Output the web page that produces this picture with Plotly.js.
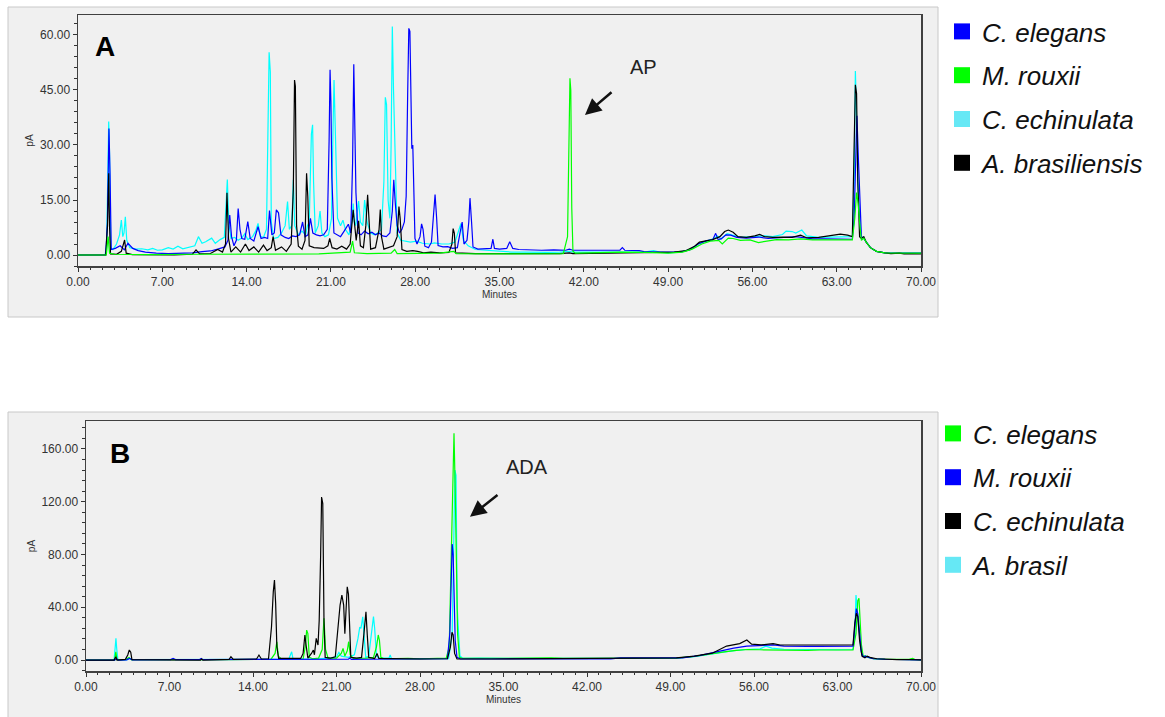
<!DOCTYPE html>
<html><head><meta charset="utf-8">
<script src="https://cdn.plot.ly/plotly-3.0.1.min.js"></script>
<style>html,body{margin:0;padding:0;background:#fff}#chart{width:1165px;height:717px}</style>
</head><body><div id="chart"></div>
<script>
// ---------- Panel A : [minutes, pA] ----------
const namesA = ['C. elegans', 'M. rouxii', 'C. echinulata', 'A. brasiliensis'];
const elegansA = [[0,0],[2.3,0],[2.44,8.6],[2.57,34.5],[2.66,22],[2.76,1.5],[3.1,1.8],[3.5,2.5],[3.85,1.4],[4.15,3.2],[4.55,1.8],[5.0,1.2],[5.6,0.8],[6.5,0.5],[7.5,0.4],[8.5,0.5],[9.5,0.6],[10.3,0.9],[11.0,1.1],[11.6,1.6],[12.2,2.2],[12.45,4.0],[12.6,10.9],[12.75,5],[12.95,2.5],[13.15,4],[13.3,12.7],[13.45,7],[13.6,4.5],[13.85,4.3],[14.1,9.1],[14.3,4.5],[14.6,3.8],[14.95,7.7],[15.2,4.5],[15.5,4.8],[15.75,4.5],[15.9,12.1],[16.1,5.5],[16.3,6],[16.47,12.3],[16.65,11.5],[16.85,5.5],[17.2,4.8],[17.5,4.5],[17.8,5.2],[18.1,5],[18.4,5.5],[18.65,9.0],[18.85,5],[19.1,5.5],[19.3,10],[19.5,6],[19.8,5.5],[20.1,5.2],[20.4,5.5],[20.7,7],[20.85,31],[20.93,50.5],[21.0,42],[21.08,21],[21.25,6],[21.5,5.5],[21.8,5],[22.1,6.5],[22.45,8.4],[22.65,6],[22.8,25],[22.9,52],[22.98,40],[23.08,17],[23.25,6],[23.5,5.5],[23.8,6.5],[24.1,5.8],[24.4,6.2],[24.7,5.5],[25.0,6],[25.3,5.2],[25.6,5],[25.9,6],[26.1,12],[26.22,20.5],[26.35,14],[26.5,8],[26.7,6],[26.9,7],[27.1,9],[27.25,16],[27.38,45],[27.47,61.8],[27.56,61],[27.64,40.8],[27.72,29],[27.8,30],[27.88,16],[27.98,4.5],[28.15,3],[28.4,5],[28.53,8.5],[28.65,7],[28.8,2.4],[29.1,2],[29.35,3.5],[29.5,9],[29.65,16.5],[29.78,10],[29.9,2.6],[30.3,2.2],[30.7,2.3],[31.1,1.8],[31.5,2],[31.75,6.5],[31.9,9.0],[32.05,3],[32.3,4],[32.45,9],[32.55,15.5],[32.68,9],[32.8,2.2],[33.2,1.6],[33.8,1.7],[34.3,1.8],[34.45,4.3],[34.58,1.8],[35.0,1.6],[35.6,1.8],[35.85,3.6],[36.1,1.8],[36.6,1.5],[37.5,1.4],[38.5,1.3],[39.5,1.4],[40.5,1.3],[40.8,1.6],[41.1,1.3],[42,1.3],[43.5,1.2],[45.0,1.3],[45.2,2.0],[45.4,1.3],[46.6,1.2],[47,0.9],[48,0.8],[49,0.7],[50,0.8],[50.8,1.4],[51.5,3.0],[52.2,3.9],[52.7,4.1],[52.95,5.9],[53.15,4.2],[53.4,4.4],[53.8,5.5],[54.2,5.4],[54.7,4.8],[55.5,4.6],[56.5,4.9],[57.3,4.5],[58.0,4.6],[59.0,4.8],[59.6,5.0],[60.1,4.8],[61.0,4.4],[62.0,4.4],[63.0,4.3],[64.3,4.3],[64.45,10],[64.58,30],[64.68,38],[64.78,28],[64.9,17],[65.05,5],[65.25,4.6],[65.45,3.5],[65.8,2.0],[66.3,1.0],[67,0.6],[68,0.5],[69,0.5],[70,0.5]];
const rouxiiA = [[0,0],[2.35,0],[2.5,5.0],[2.62,0.5],[3,0.2],[6,0.1],[10,0.2],[14,0.3],[18,0.4],[20,0.3],[22.6,0.8],[22.8,3.8],[22.95,0.6],[24,0.4],[26,0.5],[26.3,1.5],[26.5,0.4],[28,0.4],[30,0.5],[31.2,1.0],[31.4,0.4],[34,0.3],[38,0.3],[40.3,0.4],[40.65,5],[40.75,32.9],[40.85,48.2],[40.92,45],[41.0,12.9],[41.1,1.0],[41.3,0.5],[42.5,0.6],[45,0.8],[47,0.7],[49,0.5],[50.2,0.8],[51.0,1.6],[51.8,3.0],[52.5,3.8],[53.2,4.0],[53.5,3.0],[54.0,4.6],[54.4,4.5],[55.0,4.0],[55.8,4.1],[56.5,3.4],[57.3,3.8],[58.0,4.2],[59.0,4.1],[60.0,4.4],[61.0,4.1],[62.0,4.0],[63.0,4.1],[64.3,4.1],[64.5,10],[64.65,17],[64.78,14],[64.9,9],[65.05,4],[65.25,4.6],[65.45,3.5],[65.8,2.0],[66.3,1.0],[67,0.6],[68,0.5],[69,0.5],[70,0.5]];
const echinulataA = [[0,0],[2.25,0],[2.38,3],[2.5,30],[2.55,36.4],[2.62,28],[2.72,2],[2.9,1.5],[3.2,3],[3.45,5.5],[3.6,9.5],[3.72,5],[3.82,6],[3.93,10.4],[4.05,4],[4.3,2],[4.8,1.6],[5.3,1.7],[5.8,1.4],[6.2,1.8],[6.6,1.3],[7.0,1.4],[7.5,2.0],[7.9,1.6],[8.3,2.4],[8.7,1.7],[9.2,2.0],[9.7,2.5],[10.0,5.0],[10.3,3.2],[10.6,3.6],[11.1,4.6],[11.4,3.2],[11.8,4.2],[12.15,4.8],[12.3,15],[12.4,20.6],[12.52,9],[12.7,4.5],[13.0,4.8],[13.3,4.0],[13.6,4.6],[13.85,5.8],[14.1,4.2],[14.5,5],[14.75,6.5],[14.95,8.6],[15.15,5],[15.4,4.8],[15.65,7],[15.75,28.3],[15.87,55.3],[15.97,50],[16.05,9],[16.25,4.5],[16.6,4.8],[16.9,6],[17.2,8],[17.4,14.6],[17.55,7],[17.75,8],[17.88,20.5],[18.0,8],[18.3,5.5],[18.6,6.5],[18.9,5.5],[19.05,8],[19.2,9],[19.38,33],[19.48,35.5],[19.56,20],[19.7,6],[19.95,8],[20.1,12],[20.25,6],[20.5,5],[20.8,5.5],[21.05,10],[21.18,35],[21.26,47.7],[21.35,36],[21.45,24],[21.55,10],[21.8,8],[22.0,9.5],[22.2,7],[22.5,5.5],[22.75,9],[22.85,14],[22.95,9],[23.05,8],[23.3,14.7],[23.45,9],[23.65,8],[23.8,15],[24.0,9],[24.3,6],[24.6,5.5],[24.9,6],[25.2,7],[25.4,20],[25.52,43],[25.62,41],[25.75,15],[25.9,10],[26.0,30],[26.1,62.3],[26.2,45],[26.35,22],[26.5,6],[26.8,4],[27.2,3.8],[27.6,3.5],[28.1,3.8],[28.6,3.2],[29.2,3.0],[29.6,3.3],[30.2,3.0],[30.8,3.0],[31.3,3.5],[31.55,6],[31.8,8.6],[32.0,4],[32.4,2.5],[33,1.5],[34,1.2],[35,1.0],[36,0.8],[37,0.8],[38,0.7],[39,0.7],[40,0.8],[40.8,1.0],[41.1,0.8],[42,0.8],[43,0.8],[44,0.7],[45,0.8],[46,0.8],[47,0.8],[47.8,1.2],[48.3,0.8],[49,0.6],[50,0.8],[50.8,1.5],[51.5,3.0],[52.2,3.8],[52.8,4.5],[53.1,5.2],[53.4,4.4],[53.9,5.8],[54.3,5.5],[55.0,4.8],[56.0,5.0],[57.0,5.2],[57.7,5.0],[58.5,5.6],[58.8,6.5],[59.3,6.4],[59.6,6.0],[60.1,6.8],[60.5,5.2],[61.5,4.8],[62.5,4.9],[63.5,4.9],[64.3,5.0],[64.45,20],[64.55,50.2],[64.65,38],[64.75,20],[64.9,10],[65.05,5],[65.25,4.5],[65.45,3.5],[65.8,2.0],[66.3,1.0],[67,0.6],[68,0.5],[69,0.5],[70,0.5]];
const brasiliensisA = [[0,0],[2.3,0],[2.45,8],[2.55,22.3],[2.62,7.7],[2.7,0.3],[3.2,0.2],[3.6,1.0],[3.87,4.1],[4.0,0.5],[4.5,0.1],[6,0],[8,0],[9.5,0.2],[9.8,1.4],[10.1,0.3],[11,0.4],[11.6,1.5],[12.0,0.8],[12.25,3],[12.37,17],[12.5,4.5],[12.7,0.8],[13.1,2.2],[13.5,0.8],[13.9,3.0],[14.2,1.2],[14.6,2.2],[15.0,0.8],[15.4,2.7],[15.7,1.2],[16.05,2],[16.2,5.0],[16.4,1.3],[16.9,2.2],[17.3,1.0],[17.7,3],[17.88,18],[17.98,47.7],[18.05,46],[18.15,8],[18.3,2.4],[18.6,1.6],[18.85,4],[18.98,22.3],[19.08,16],[19.2,2.5],[19.6,2],[20.0,1.8],[20.4,1.8],[20.75,2.5],[20.9,4.5],[21.1,2],[21.5,1.6],[21.9,2.4],[22.3,1.6],[22.6,3],[22.75,8],[22.85,12.3],[22.95,9],[23.1,4],[23.3,9.3],[23.45,2.5],[23.7,2],[23.9,8],[24.05,16.4],[24.15,10],[24.3,1.6],[24.7,2],[25.0,7],[25.1,12.4],[25.2,5],[25.4,1.6],[25.8,2],[26.2,2.5],[26.5,5],[26.65,13.2],[26.75,10],[26.9,1.5],[27.3,1.0],[27.8,1.2],[28.2,1.0],[28.7,0.6],[29.3,0.8],[30,0.6],[30.8,0.7],[31.05,3],[31.15,7.2],[31.25,6],[31.35,0.6],[32,0.5],[33,0.4],[34,0.4],[36,0.4],[38,0.3],[40,0.4],[40.8,0.6],[41.1,0.4],[44,0.5],[46,0.6],[48,0.7],[49.5,0.8],[50.5,1.2],[51.2,2.4],[51.6,3.5],[52.1,3.8],[52.7,4.2],[53.3,5.0],[53.7,6.4],[54.0,6.8],[54.4,6.2],[54.8,5.0],[55.5,4.8],[56.2,5.2],[56.6,5.6],[57.0,5.0],[57.7,4.8],[58.5,4.9],[59.3,4.8],[60.0,5.4],[60.5,4.7],[61.5,4.8],[62.5,5.2],[63.3,5.7],[63.9,5.4],[64.3,5.0],[64.45,30],[64.55,46.4],[64.65,44],[64.75,20],[64.9,5],[65.05,4.5],[65.25,5.0],[65.45,3.5],[65.8,2.0],[66.3,1.0],[67,0.6],[67.5,0.4],[68.2,0.5],[68.6,0.3],[69.2,0.4],[70,0.3]];

// ---------- Panel B : [minutes, pA] ----------
const namesB = ['C. elegans', 'M. rouxii', 'C. echinulata', 'A. brasil'];
const elegansB = [[0,0],[2.4,0],[2.5,6.3],[2.6,0.3],[3.3,0.3],[3.6,2],[3.8,0.3],[7,0.2],[12,0.3],[15.5,0.5],[15.85,5],[16.0,13.9],[16.12,3],[16.4,0.6],[18.2,0.8],[18.38,10],[18.5,22.7],[18.6,20],[18.72,2],[19.0,1],[19.5,1.5],[19.8,8],[19.95,31.6],[20.08,8],[20.3,1.2],[21.0,1.5],[21.4,5],[21.55,8.8],[21.7,3],[21.9,7],[22.02,13.9],[22.15,4],[22.4,1.2],[23.5,1.5],[24.1,2],[24.35,10],[24.5,19],[24.6,15],[24.72,2],[25,1],[26,1.2],[27,1.3],[28,1.0],[29,1.2],[30.2,1.5],[30.45,10],[30.62,80],[30.75,155],[30.85,172],[30.95,130],[31.05,60],[31.15,20],[31.3,2],[31.6,1.2],[33,1.2],[35,1.5],[37,1.8],[39,1.6],[40,1.3],[42,1.3],[44,1.2],[46,1.3],[48,1.2],[49.5,1.5],[51,2.8],[52.5,4.5],[53.5,6.2],[54.5,7.4],[55.5,8.0],[56.5,7.8],[57.5,7.6],[58.5,7.5],[59.5,7.6],[60.5,7.4],[61.5,7.6],[62.5,7.5],[63.5,7.6],[64.3,7.7],[64.55,20],[64.7,45],[64.8,46.8],[64.9,30],[65.0,12],[65.15,3],[65.35,3.0],[65.6,2],[66,1],[67,0.6],[68,0.4],[69,0.5],[69.3,1.2],[69.5,0.4],[70,0.2]];
const rouxiiB = [[0,0],[2.4,0],[2.55,1.0],[2.7,0],[3.4,0.2],[3.65,1.3],[3.9,0.2],[7.1,0.3],[7.3,1.3],[7.5,0.3],[9.5,0.3],[9.65,1.2],[9.8,0.3],[12,0.3],[13.5,0.8],[15.0,0.8],[16,0.6],[17,0.7],[18,0.5],[19,0.6],[20,0.5],[22,0.7],[22.1,1.5],[22.25,0.5],[24,0.6],[26,0.7],[28,0.6],[30.3,1.0],[30.5,20],[30.6,58],[30.7,88],[30.78,80],[30.85,40],[30.95,15],[31.1,2],[31.4,0.8],[34,0.8],[36,0.9],[38,1.0],[40,1.2],[41.5,1.2],[42,0.8],[44,0.9],[44.8,1.6],[46,1.5],[47.3,1.5],[48,1.2],[50,1.6],[51.5,3.5],[53,6.5],[54.3,9.0],[55.4,10.5],[56.5,10.8],[57.6,11.5],[58.5,10.5],[59.5,10.2],[60.5,10.4],[61.5,10.3],[62.5,10.4],[63.5,10.4],[64.3,10.5],[64.45,25],[64.58,39],[64.7,35],[64.85,20],[65.0,6],[65.15,2.5],[65.35,3.0],[65.6,2],[66,1],[67,0.6],[68,0.4],[69,0.4],[70,0.2]];
const echinulataB = [[0,0],[2.35,0],[2.5,2.5],[2.6,0],[3.3,0.5],[3.5,3.8],[3.63,7.6],[3.75,6],[3.85,0.3],[6,0],[9.6,0],[9.7,0.8],[9.8,0],[12.0,0.5],[12.15,2.5],[12.35,0.5],[14.3,0.8],[14.5,3.8],[14.7,0.8],[15.3,1.0],[15.55,25],[15.7,51.7],[15.8,60.6],[15.9,42.9],[16.0,10],[16.15,1.2],[18.0,1.2],[18.2,5],[18.35,19],[18.45,11.4],[18.6,1.5],[18.9,5],[19.06,7.6],[19.15,4],[19.3,16.4],[19.45,11.4],[19.55,30],[19.67,79.4],[19.75,123.6],[19.85,118.6],[19.95,30],[20.05,2],[20.5,1.5],[20.9,2.5],[21.1,21.5],[21.3,41.7],[21.45,49.3],[21.6,41.7],[21.7,20],[21.8,38],[21.9,55.5],[22.0,50],[22.1,20],[22.2,2],[22.7,1.5],[23.1,2],[23.3,20],[23.47,36.6],[23.58,19],[23.7,2],[24.2,1.2],[24.4,5],[24.55,1.2],[26,1.0],[28,0.8],[30.3,1.0],[30.55,10],[30.68,21],[30.78,19],[30.9,5],[31.1,0.8],[34,0.8],[38,1.0],[40,1.0],[42,1.0],[44,1.1],[46,1.1],[48,1.2],[49.5,1.6],[51,3.0],[52.5,5.2],[53.7,10.6],[54.8,12.5],[55.4,15.2],[55.8,12.0],[56.6,11.5],[57.3,11.8],[57.6,12.4],[58.2,11.4],[60,11.4],[62,11.4],[64.3,11.4],[64.45,28],[64.58,35.4],[64.7,33],[64.85,15],[65.05,3],[65.3,1.8],[65.5,3.0],[65.8,1.8],[66.3,1.0],[67,0.6],[68,0.3],[69,0.3],[70,0.2]];
const brasilB = [[0,0],[2.35,0],[2.45,10],[2.51,16.4],[2.58,8],[2.68,0],[3.5,0.3],[3.65,1.5],[3.8,0.3],[8,0.2],[12,0.3],[14,0.5],[16,0.5],[17.0,0.6],[17.15,5],[17.24,6.3],[17.35,1],[18,0.8],[19,0.8],[20.5,1.5],[21,2.5],[21.2,5.8],[21.4,3],[22,2],[22.5,4],[22.8,16.4],[22.95,25],[23.05,24],[23.2,32.8],[23.3,20],[23.45,2],[23.7,3],[23.95,25],[24.1,32.9],[24.2,24],[24.35,3],[24.6,1.5],[25.4,1.5],[25.5,3.8],[25.6,1.2],[27,1.0],[30.4,1.0],[30.7,20],[30.85,100],[30.93,144],[31.02,140],[31.12,40],[31.2,26],[31.35,3],[31.6,1.2],[33,1.5],[35,1.2],[38,1.2],[40,1.2],[42,1.0],[46,1.2],[48,1.2],[49.5,1.4],[51,2.6],[52.5,4.8],[54,6.8],[55.3,8.0],[56.5,8.5],[57.0,10.5],[57.5,9.0],[58.5,8.2],[60,8.0],[61.5,7.8],[63,7.8],[64.3,8.0],[64.45,20],[64.55,49.3],[64.65,40],[64.8,22],[64.95,8],[65.1,3],[65.35,3.0],[65.6,2],[66,1],[67,0.6],[68,0.4],[69,0.4],[70,0.2]];

// ---------- tick values ----------
const xTicks = [0, 7, 14, 21, 28, 35, 42, 49, 56, 63, 70];
const yTicksA = [0, 15, 30, 45, 60];
const yTicksB = [0, 40, 80, 120, 160];

// ---------- styling ----------
const W = 1165, H = 717;
const BLUE = '#0000ff', GREEN = '#00ff00', CYAN = '#00ffff', BLACK = '#000000', CYAN_KEY = '#66e8f5';
const FONT = 'Liberation Sans, Arial, Helvetica, sans-serif';
const px = v => v / W, py = v => 1 - v / H;

function line(data, color, xa, ya) {
  return {type: 'scatter', mode: 'lines', x: data.map(p => p[0]), y: data.map(p => p[1]),
    xaxis: xa, yaxis: ya, line: {color: color, width: 1.2}, showlegend: false, hoverinfo: 'skip'};
}
function key(name, color, xa, ya, lg) {
  return {type: 'scatter', mode: 'markers', x: [null], y: [null], xaxis: xa, yaxis: ya,
    name: name, legend: lg, legendgroup: lg + name, showlegend: true,
    marker: {symbol: 'square', size: 20, color: color, line: {width: 0}}};
}

const traces = [
  line(echinulataA, CYAN, 'x', 'y'),
  line(elegansA, BLUE, 'x', 'y'),
  line(brasiliensisA, BLACK, 'x', 'y'),
  line(rouxiiA, GREEN, 'x', 'y'),
  line(brasilB, CYAN, 'x2', 'y2'),
  line(elegansB, GREEN, 'x2', 'y2'),
  line(rouxiiB, BLUE, 'x2', 'y2'),
  line(echinulataB, BLACK, 'x2', 'y2'),
  key(namesA[0], BLUE, 'x', 'y', 'legend'),
  key(namesA[1], GREEN, 'x', 'y', 'legend'),
  key(namesA[2], CYAN_KEY, 'x', 'y', 'legend'),
  key(namesA[3], BLACK, 'x', 'y', 'legend'),
  key(namesB[0], GREEN, 'x2', 'y2', 'legend2'),
  key(namesB[1], BLUE, 'x2', 'y2', 'legend2'),
  key(namesB[2], BLACK, 'x2', 'y2', 'legend2'),
  key(namesB[3], CYAN_KEY, 'x2', 'y2', 'legend2')
];

const tickFont = {family: FONT, size: 12, color: '#333'};
function xAxis(domain, anchor) {
  return {domain: domain, anchor: anchor, range: [0, 70], tickvals: xTicks, ticktext: xTicks.map(v => v.toFixed(2)),
    ticks: 'outside', ticklen: 4, tickwidth: 1, tickcolor: '#333', tickfont: tickFont,
    minor: {dtick: 1, tick0: 0, ticks: 'outside', ticklen: 2.5, tickcolor: '#333'},
    showline: true, mirror: true, linecolor: '#404040', linewidth: 1.5, showgrid: false, zeroline: false,
    automargin: false, fixedrange: true,
    title: {text: 'Minutes', font: {family: FONT, size: 10, color: '#333'}, standoff: 2}};
}
function yAxis(domain, anchor, range, ticks, minorStep) {
  return {domain: domain, anchor: anchor, range: range, tickvals: ticks, ticktext: ticks.map(v => v.toFixed(2)),
    ticks: 'outside', ticklen: 4, tickwidth: 1, tickcolor: '#333', tickfont: tickFont,
    minor: {dtick: minorStep, tick0: 0, ticks: 'outside', ticklen: 2.5, tickcolor: '#333'},
    showline: true, mirror: true, linecolor: '#404040', linewidth: 1.5, showgrid: false, zeroline: false,
    automargin: false, fixedrange: true,
    title: {text: 'pA', font: {family: FONT, size: 10, color: '#333'}, standoff: 4}};
}

const legendBase = {xanchor: 'left', yanchor: 'top', bgcolor: 'rgba(0,0,0,0)', borderwidth: 0,
  traceorder: 'grouped', tracegroupgap: 7, itemclick: false, itemdoubleclick: false,
  font: {family: FONT, size: 26, color: '#111', style: 'italic'}};

const label = (x, y, text, size, color) => ({xref: 'paper', yref: 'paper', x: px(x), y: py(y),
  xanchor: 'center', yanchor: 'middle', text: text, showarrow: false,
  font: {family: FONT, size: size, color: color}});

const layout = {
  width: W, height: H, margin: {l: 0, r: 0, t: 0, b: 0},
  paper_bgcolor: '#ffffff', plot_bgcolor: 'rgba(0,0,0,0)',
  showlegend: true, hovermode: false,
  xaxis: xAxis([px(78), px(921)], 'y'),
  yaxis: yAxis([py(266), py(15)], 'x', [-3.0, 65.45], yTicksA, 3),
  xaxis2: xAxis([px(86), px(921)], 'y2'),
  yaxis2: yAxis([py(671), py(421)], 'x2', [-8.3, 181.2], yTicksB, 8),
  legend: Object.assign({x: px(942), y: py(8)}, legendBase),
  legend2: Object.assign({x: px(933), y: py(410)}, legendBase),
  shapes: [
    {type: 'rect', xref: 'paper', yref: 'paper', x0: px(8), x1: px(938), y0: py(317), y1: py(7),
      fillcolor: '#f0f0f0', line: {color: '#c8c8c8', width: 1}, layer: 'below'},
    {type: 'rect', xref: 'paper', yref: 'paper', x0: px(8), x1: px(938), y0: py(720), y1: py(412),
      fillcolor: '#f0f0f0', line: {color: '#c8c8c8', width: 1}, layer: 'below'}
  ],
  annotations: [
    label(105, 46, '<b>A</b>', 28, '#000'),
    label(120, 453, '<b>B</b>', 28, '#000'),
    label(643, 67, 'AP', 20, '#222'),
    label(527, 467, 'ADA', 20, '#222'),
    {xref: 'x', yref: 'y', x: 42.1, y: 38.2, text: '', showarrow: true, ax: 28, ay: -24,
      arrowhead: 2, arrowsize: 1.3, arrowwidth: 2.5, arrowcolor: '#111', standoff: 0},
    {xref: 'x2', yref: 'y2', x: 32.19, y: 108.6, text: '', showarrow: true, ax: 29, ay: -23,
      arrowhead: 2, arrowsize: 1.3, arrowwidth: 2.5, arrowcolor: '#111', standoff: 0}
  ]
};

Plotly.newPlot('chart', traces, layout, {staticPlot: true, displayModeBar: false});
</script>
</body></html>
